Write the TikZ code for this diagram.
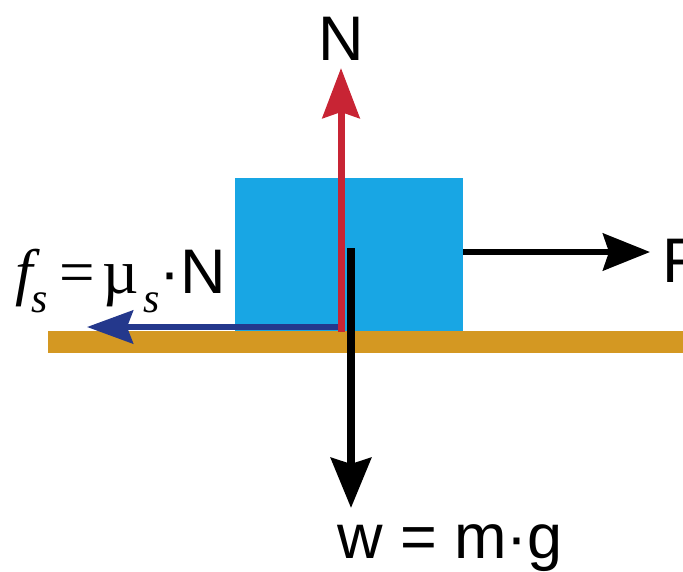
\documentclass[tikz,border=0pt]{standalone}
\usepackage{fontspec}
\setmainfont{Liberation Sans}
\newfontfamily\serifmu{Liberation Serif}
\usetikzlibrary{arrows.meta}
\definecolor{blockcyan}{RGB}{24,166,228}
\definecolor{groundbrown}{RGB}{212,152,34}
\definecolor{forcered}{RGB}{200,36,52}
\definecolor{forcenavy}{RGB}{36,56,140}
\newcommand{\subs}{\raisebox{-19pt}{\fontsize{42}{42}\selectfont\serifmu\itshape s}}
\tikzset{
  bigtext/.style={font=\fontsize{63}{63}\selectfont, inner sep=0pt},
}
\begin{document}
\begin{tikzpicture}[x=1pt,y=-1pt]
\useasboundingbox (0,0) rectangle (683,571);
% ground
\fill[groundbrown] (48,331) rectangle (683,353);
% block
\node[fill=blockcyan, inner sep=0pt, minimum width=228pt, minimum height=153pt, anchor=north west] (block) at (235,178) {};
% coordinates
\coordinate (fsstart) at (344,327);
\coordinate (fsend) at (87,327);
\coordinate (Nstart) at (341,332);
\coordinate (Nend) at (341,68);
\coordinate (Wstart) at (351,248);
\coordinate (Wend) at (351,508);
\coordinate (Fend) at (650,252);
% friction
\draw[forcenavy, line width=6pt, -{Stealth[length=46pt,width=33pt,inset=6pt]}] (fsstart) -- (fsend);
% normal
\draw[forcered, line width=7pt, -{Stealth[length=50pt,width=37pt,inset=6pt]}] (Nstart) -- (Nend);
% weight
\draw[black, line width=8pt, -{Stealth[length=50pt,width=40pt,inset=6pt]}] (Wstart) -- (Wend);
% applied force
\draw[black, line width=6pt, -{Stealth[length=47pt,width=37pt,inset=6pt]}] (block.east |- Fend) -- (Fend);
% labels
\node[bigtext, anchor=base] (Nlab) at (341,60) {N};
\node[bigtext, anchor=base west] (Flab) at (662,282) {F};
\node[bigtext, anchor=base west] (Wlab) at (337,558) {w = m·g};
\node[bigtext, anchor=base west] (fslab) at (15,293) {{\serifmu\itshape f}\kern-1pt\subs\kern11pt{\serifmu =}\kern8pt{\serifmu µ}\kern5pt\subs\kern-1pt·N};
\end{tikzpicture}
\end{document}
